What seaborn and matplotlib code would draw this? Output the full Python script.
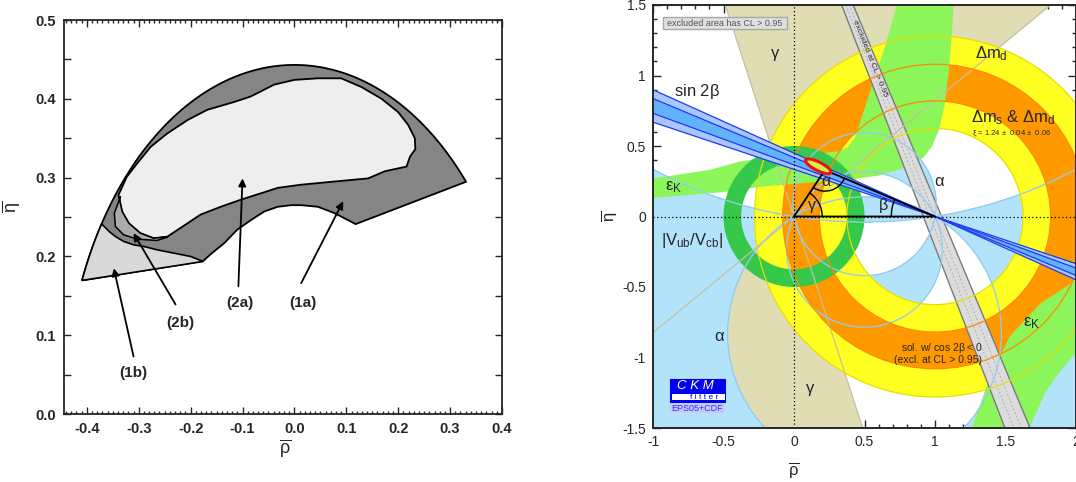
import numpy as np
import matplotlib
matplotlib.use("Agg")
import matplotlib.pyplot as plt
import seaborn as sns
from matplotlib.patches import Polygon, Wedge, Ellipse, Rectangle, Arc, Circle
from matplotlib.ticker import MultipleLocator

sns.set_style("ticks")
plt.rcParams["font.family"] = ["Liberation Sans", "DejaVu Sans"]
plt.rcParams["mathtext.fontset"] = "custom"
plt.rcParams["mathtext.rm"] = "Liberation Sans"
plt.rcParams["mathtext.it"] = "Liberation Sans"
plt.rcParams["mathtext.bf"] = "Liberation Sans:bold"

# ================= LEFT PANEL DATA (rho, eta) =================
vub_radius = 0.443
outer_arc_deg = [41.7, 157.5]
lower_rho = [-0.176, -0.161, -0.135, -0.110, -0.084, -0.058, -0.032, -0.006, 0.013, 0.045, 0.077, 0.118]
lower_eta = [0.194, 0.203, 0.217, 0.234, 0.246, 0.257, 0.263, 0.265, 0.265, 0.263, 0.255, 0.241]
r1b_arc_deg = [147.0, 157.5]
r1b_top_rho = [-0.357, -0.345, -0.329, -0.310, -0.290, -0.265, -0.232, -0.200, -0.176]
r1b_top_eta = [0.2316, 0.2253, 0.2190, 0.2147, 0.2126, 0.2084, 0.2041, 0.1999, 0.1936]
r2a_rho = [-0.339, -0.323, -0.303, -0.277, -0.245, -0.206, -0.168, -0.116, -0.084, -0.039, 0.000,
           0.045, 0.090, 0.129, 0.168, 0.200, 0.219, 0.232, 0.233, 0.223, 0.216, 0.174, 0.142,
           0.077, 0.013, -0.032, -0.065, -0.103, -0.142, -0.181, -0.206, -0.245, -0.271, -0.297,
           -0.319, -0.332, -0.337]
r2a_eta = [0.278, 0.301, 0.318, 0.339, 0.356, 0.373, 0.386, 0.396, 0.403, 0.418, 0.424,
           0.426, 0.426, 0.415, 0.400, 0.383, 0.367, 0.350, 0.336, 0.327, 0.314, 0.308, 0.299,
           0.295, 0.291, 0.287, 0.280, 0.272, 0.263, 0.253, 0.242, 0.225, 0.223, 0.2295,
           0.242, 0.257, 0.272]
r2b_outer_rho = [-0.335, -0.347, -0.345, -0.329, -0.303, -0.265, -0.245]
r2b_outer_eta = [0.276, 0.2549, 0.238, 0.2274, 0.2219, 0.2202, 0.2244]
left_labels = ["(1a)", "(2a)", "(2b)", "(1b)"]
label_rho = [0.016, -0.106, -0.219, -0.310]
label_eta = [0.141, 0.141, 0.115, 0.052]
tail_rho = [0.013, -0.108, -0.229, -0.310]
tail_eta = [0.166, 0.162, 0.139, 0.073]
tip_rho = [0.094, -0.100, -0.310, -0.348]
tip_eta = [0.270, 0.299, 0.2295, 0.185]
left_xticks = [-0.4, -0.3, -0.2, -0.1, 0.0, 0.1, 0.2, 0.3, 0.4]
left_xticklabels = ["-0.4", "-0.3", "-0.2", "-0.1", "0.0", "0.1", "0.2", "0.3", "0.4"]
left_yticks = [0.0, 0.05, 0.1, 0.15, 0.2, 0.25, 0.3, 0.35, 0.4, 0.45, 0.5]
left_yticklabels = ["0.0", "", "0.1", "", "0.2", "", "0.3", "", "0.4", "", "0.5"]

# ================= RIGHT PANEL DATA =================
gamma_wedges_deg = [(39.5, 108.0), (219.5, 288.0)]
alpha_bands_deg = [(80.0, 115.0)]          # allowed alpha (mod 180)
alpha_wrap_deg = (149.0, 9.0)              # alpha mod 180 >= 149 or <= 9
dmd_ring = (0.625, 1.28)
dms_ring = (0.82, 1.08)
vub_ring = (0.375, 0.50)
ring_center = (1.0, 0.0)
s2b_outer_deg = (18.5, 24.2)
s2b_inner_deg = (20.1, 22.7)
epsK_up_upper_rho = [-1.0, -0.6, -0.383, -0.19, 0.0, 0.2, 0.3, 0.38, 0.43, 0.48, 0.56, 0.65, 0.73]
epsK_up_upper_eta = [0.27, 0.33, 0.39, 0.42, 0.44, 0.45, 0.46, 0.49, 0.56, 0.70, 0.95, 1.22, 1.50]
epsK_up_lower_rho = [-1.0, -0.5, -0.24, 0.1, 0.373, 0.6, 0.8, 0.92, 0.98, 1.03, 1.07, 1.10, 1.12, 1.13]
epsK_up_lower_eta = [0.131, 0.173, 0.211, 0.240, 0.259, 0.29, 0.35, 0.42, 0.50, 0.62, 0.80, 1.05, 1.30, 1.50]
epsK_lo_inner_rho = [1.26, 1.39, 1.53, 1.745, 2.0]
epsK_lo_inner_eta = [-1.50, -1.14, -0.85, -0.62, -0.45]
epsK_lo_outer_rho = [1.67, 1.78, 1.90, 2.0]
epsK_lo_outer_eta = [-1.50, -1.25, -1.08, -0.97]
excl_band_rho = [0.338, 0.420, 1.674, 1.496]
excl_band_eta = [1.5, 1.5, -1.5, -1.5]
tri_rho = [0.0, 0.22, 1.0, 0.0]
tri_eta = [0.0, 0.33, 0.0, 0.0]
fit_center = (0.172, 0.356)
fit_size = (0.20, 0.06, -27.0)
right_xticks = [-1, -0.5, 0, 0.5, 1, 1.5, 2]
right_xticklabels = ["-1", "-0.5", "0", "0.5", "1", "1.5", "2"]
right_yticks = [-1.5, -1, -0.5, 0, 0.5, 1, 1.5]
right_yticklabels = ["-1.5", "-1", "-0.5", "0", "0.5", "1", "1.5"]

TAN = "#e0dcb3"
LBLUE = "#b3e3fa"
YELLOW = "#ffff22"
ORANGE = "#ff9900"
LGREEN = "#8cf55a"
DGREEN = "#36c84a"

fig = plt.figure(figsize=(10.76, 4.82), dpi=100)

# ---------------- LEFT ----------------
ax1 = fig.add_axes([64 / 1076, 68 / 482, 438 / 1076, 394 / 482])
ax1.set_xlim(-0.444, 0.40)
ax1.set_ylim(0.0, 0.5)


def arc_pts(r, t1, t2, n=150, c=(0.0, 0.0)):
    t = np.radians(np.linspace(t1, t2, n))
    return np.column_stack([c[0] + r * np.cos(t), c[1] + r * np.sin(t)])


outer = np.vstack([arc_pts(vub_radius, *outer_arc_deg), np.column_stack([lower_rho, lower_eta])])
ax1.add_patch(Polygon(outer, closed=True, fc="#858585", ec="k", lw=1.3, zorder=1))
r1b = np.vstack([arc_pts(vub_radius, *r1b_arc_deg), np.column_stack([r1b_top_rho[::-1], r1b_top_eta[::-1]])])
ax1.add_patch(Polygon(r1b, closed=True, fc="#d9d9d9", ec="k", lw=1.2, zorder=2))
ax1.add_patch(Polygon(np.column_stack([r2a_rho, r2a_eta]), closed=True, fc="#eeeeee", ec="k", lw=1.3, zorder=3))
r2b = np.vstack([np.column_stack([r2b_outer_rho, r2b_outer_eta]),
                 np.column_stack([r2a_rho[31:], r2a_eta[31:]])])
ax1.add_patch(Polygon(r2b, closed=True, fc="#ababab", ec="k", lw=1.1, zorder=4))

for lab, lx, ly, tx, ty, px, py in zip(left_labels, label_rho, label_eta, tail_rho, tail_eta, tip_rho, tip_eta):
    ax1.annotate("", xy=(px, py), xytext=(tx, ty),
                 arrowprops=dict(arrowstyle="-|>", color="k", lw=1.3, mutation_scale=11, shrinkA=0, shrinkB=0),
                 zorder=6)
    ax1.text(lx, ly, lab, ha="center", va="center", fontsize=11, fontweight="bold", zorder=7)

ax1.set_xticks(left_xticks, labels=left_xticklabels, fontweight="bold", fontsize=10.5)
ax1.set_yticks(left_yticks, labels=left_yticklabels, fontweight="bold", fontsize=10.5)
ax1.xaxis.set_minor_locator(MultipleLocator(0.01))
ax1.tick_params(which="both", direction="in", top=True, right=True, width=1.0)
ax1.tick_params(which="major", length=5, pad=6)
ax1.tick_params(which="minor", length=2.5)
for s in ax1.spines.values():
    s.set_linewidth(1.3)
ax1.set_xlabel(r"$\overline{\rho}$", fontsize=13)
ax1.xaxis.set_label_coords(0.505, -0.06)
ax1.set_ylabel(r"$\overline{\eta}$", fontsize=13)
ax1.yaxis.set_label_coords(-0.095, 0.525)

# ---------------- RIGHT ----------------
ax2 = fig.add_axes([653 / 1076, 54 / 482, 423 / 1076, 423 / 482])
ax2.set_xlim(-1, 2)
ax2.set_ylim(-1.5, 1.5)

# gamma
for t1, t2 in gamma_wedges_deg:
    ax2.add_patch(Wedge((0, 0), 4.0, t1, t2, fc=TAN, ec="none", zorder=1))

# alpha (computed from the angle at the apex)
R, E = np.meshgrid(np.linspace(-1.02, 2.02, 900), np.linspace(-1.52, 1.52, 900))
Z = R + 1j * E
alpha = np.degrees(np.angle((Z - 1) / Z)) % 180.0
mask = (alpha >= alpha_wrap_deg[0]) | (alpha <= alpha_wrap_deg[1])
for a1, a2 in alpha_bands_deg:
    mask |= (alpha >= a1) & (alpha <= a2)
maskf = mask.astype(float)
ax2.contourf(R, E, maskf, levels=[0.5, 1.5], colors=[LBLUE], zorder=2)

# dm_d and dm_s rings
ax2.add_patch(Wedge(ring_center, dmd_ring[1], 0, 360, width=dmd_ring[1] - dmd_ring[0], fc=YELLOW, ec="none", zorder=3))
ax2.add_patch(Wedge(ring_center, dms_ring[1], 0, 360, width=dms_ring[1] - dms_ring[0], fc=ORANGE, ec="none", zorder=4))

# epsilon_K
up = np.column_stack([epsK_up_upper_rho + epsK_up_lower_rho[::-1], epsK_up_upper_eta + epsK_up_lower_eta[::-1]])
ax2.add_patch(Polygon(up, closed=True, fc=LGREEN, ec="none", zorder=5))
lo = np.column_stack([epsK_lo_inner_rho + [2.0] + epsK_lo_outer_rho[::-1], epsK_lo_inner_eta + [-1.5] + epsK_lo_outer_eta[::-1]])
ax2.add_patch(Polygon(lo, closed=True, fc=LGREEN, ec="none", zorder=5))

# |Vub/Vcb|
ax2.add_patch(Wedge((0, 0), vub_ring[1], 0, 360, width=vub_ring[1] - vub_ring[0], fc=DGREEN, ec="none", zorder=6))

# excluded band
ax2.add_patch(Polygon(np.column_stack([excl_band_rho, excl_band_eta]), closed=True, fc="#dcdcdc", ec="#7a7a7a", lw=1.0, zorder=7))
for f in (0.35, 0.65):
    xt = excl_band_rho[0] + f * (excl_band_rho[1] - excl_band_rho[0])
    xb = excl_band_rho[3] + f * (excl_band_rho[2] - excl_band_rho[3])
    ax2.plot([xt, xb], [1.5, -1.5], color="#b0b0b0", lw=0.7, ls=(0, (2, 2)), zorder=7.2)

# outlines
for t in (gamma_wedges_deg[0][0], gamma_wedges_deg[0][1]):
    c, s = np.cos(np.radians(t)), np.sin(np.radians(t))
    ax2.plot([-4 * c, 4 * c], [-4 * s, 4 * s], color="#c4c0a2", lw=0.9, zorder=8)
ax2.contour(R, E, maskf, levels=[0.5], colors=["#92cbef"], linewidths=0.9, zorder=8)
for r in dmd_ring:
    ax2.add_patch(Circle(ring_center, r, fill=False, ec="#e3e000", lw=0.9, zorder=8))
for r in dms_ring:
    ax2.add_patch(Circle(ring_center, r, fill=False, ec="#ff8a00", lw=0.9, zorder=8))

# sin 2 beta
for (b1, b2), col in ((s2b_outer_deg, "#a9c6ff"), (s2b_inner_deg, "#62b2fb")):
    ax2.add_patch(Wedge((1, 0), 4.0, 180 - b2, 180 - b1, fc=col, ec="none", zorder=9))
    ax2.add_patch(Wedge((1, 0), 4.0, 360 - b2, 360 - b1, fc=col, ec="none", zorder=9))
for b in list(s2b_outer_deg) + list(s2b_inner_deg):
    c, s = np.cos(np.radians(b)), np.sin(np.radians(b))
    ax2.plot([1 - 4 * c, 1 + 4 * c], [4 * s, -4 * s], color="#1c3cf0", lw=0.9, zorder=9.5)

# axes lines and unitarity triangle
ax2.axhline(0, color="k", lw=0.9, ls=(0, (1, 2)), zorder=10)
ax2.axvline(0, color="k", lw=0.9, ls=(0, (1, 2)), zorder=10)
sns.lineplot(x=tri_rho, y=tri_eta, sort=False, estimator=None, color="k", lw=1.3, ax=ax2, zorder=11)
apex = (tri_rho[1], tri_eta[1])
ang_g = np.degrees(np.arctan2(apex[1], apex[0]))
ang_b = np.degrees(np.arctan2(apex[1], apex[0] - 1))
ax2.add_patch(Arc((0, 0), 0.40, 0.40, theta1=0, theta2=ang_g, color="k", lw=1.0, zorder=11))
ax2.add_patch(Arc(apex, 0.30, 0.30, theta1=180 + ang_g, theta2=360 + ang_b - 180, color="k", lw=1.0, zorder=11))
ax2.add_patch(Arc((1, 0), 0.62, 0.62, theta1=ang_b, theta2=180, color="k", lw=1.0, zorder=11))
ax2.add_patch(Ellipse(fit_center, fit_size[0], fit_size[1], angle=fit_size[2], fc="#d8f04a", ec="#ee1111", lw=2.2, zorder=12))

# texts
tk = dict(ha="center", va="center", zorder=13)
ax2.text(0.13, 0.07, r"$\gamma$", fontsize=11.5, **tk)
ax2.text(0.232, 0.247, r"$\alpha$", fontsize=11.5, **tk)
ax2.text(0.633, 0.075, r"$\beta$", fontsize=11.5, **tk)
ax2.text(-0.135, 1.145, r"$\gamma$", fontsize=12, **tk)
ax2.text(0.113, -1.23, r"$\gamma$", fontsize=12, **tk)
ax2.text(-0.69, 0.885, r"sin 2$\beta$", fontsize=12, **tk)
ax2.text(1.40, 1.157, r"$\Delta m_d$", fontsize=12, **tk)
ax2.text(1.555, 0.70, r"$\Delta m_s$ & $\Delta m_d$", fontsize=12, **tk)
ax2.text(1.545, 0.583, r"$\xi$ = 1.24 $\pm$  0.04 $\pm$  0.06", fontsize=5.5, **tk)
ax2.text(1.035, 0.247, r"$\alpha$", fontsize=12, **tk)
ax2.text(-0.856, 0.211, r"$\varepsilon_K$", fontsize=12, **tk)
ax2.text(1.686, -0.758, r"$\varepsilon_K$", fontsize=12, **tk)
ax2.text(-0.726, -0.167, r"$|V_{ub}/V_{cb}|$", fontsize=12, **tk)
ax2.text(-0.525, -0.852, r"$\alpha$", fontsize=12, **tk)
ax2.text(1.047, -0.93, r"sol. w/ cos 2$\beta$ < 0", fontsize=7.5, **tk)
ax2.text(1.023, -1.015, "(excl. at CL > 0.95)", fontsize=7.5, **tk)
ax2.text(0.535, 1.12, "excluded at CL > 0.95", fontsize=6, rotation=-68, rotation_mode="anchor",
         color="#333333", **tk)

# legend box
ax2.add_patch(Rectangle((-0.929, 1.330), 0.879, 0.085, fc="#e0e0e0", ec="#a8a8a8", lw=1.0, zorder=12))
ax2.text(-0.49, 1.372, "excluded area has CL > 0.95", fontsize=6.5, color="#555555", **tk)

# CKMfitter logo
ax2.add_patch(Rectangle((-0.879, -1.313), 0.390, 0.158, fc="#0000ee", ec="#0000ee", lw=0.8, zorder=12))
ax2.add_patch(Rectangle((-0.862, -1.303), 0.373, 0.042, fc="white", ec="none", zorder=12.5))
ax2.add_patch(Rectangle((-0.879, -1.396), 0.390, 0.066, fc="#c9c9ff", ec="none", zorder=12))
ax2.text(-0.70, -1.205, "C K M", fontsize=9.5, color="white", style="italic", **tk)
ax2.text(-0.64, -1.283, "f i t t e r", fontsize=6, color="#0000ee", **tk)
ax2.text(-0.684, -1.363, "EPS05+CDF", fontsize=6.5, color="#2a2aff", **tk)

ax2.set_xticks(right_xticks, labels=right_xticklabels, fontsize=10)
ax2.set_yticks(right_yticks, labels=right_yticklabels, fontsize=10)
ax2.xaxis.set_minor_locator(MultipleLocator(0.1))
ax2.yaxis.set_minor_locator(MultipleLocator(0.1))
ax2.tick_params(which="both", direction="in", top=True, right=True, width=1.0)
ax2.tick_params(which="major", length=6, pad=5)
ax2.tick_params(which="minor", length=3)
for s in ax2.spines.values():
    s.set_linewidth(1.4)
    s.set_zorder(20)
ax2.set_xlabel(r"$\overline{\rho}$", fontsize=12)
ax2.xaxis.set_label_coords(0.333, -0.075)
ax2.set_ylabel(r"$\overline{\eta}$", fontsize=12)
ax2.yaxis.set_label_coords(-0.08, 0.501)

fig.savefig("out.png", dpi=100)
